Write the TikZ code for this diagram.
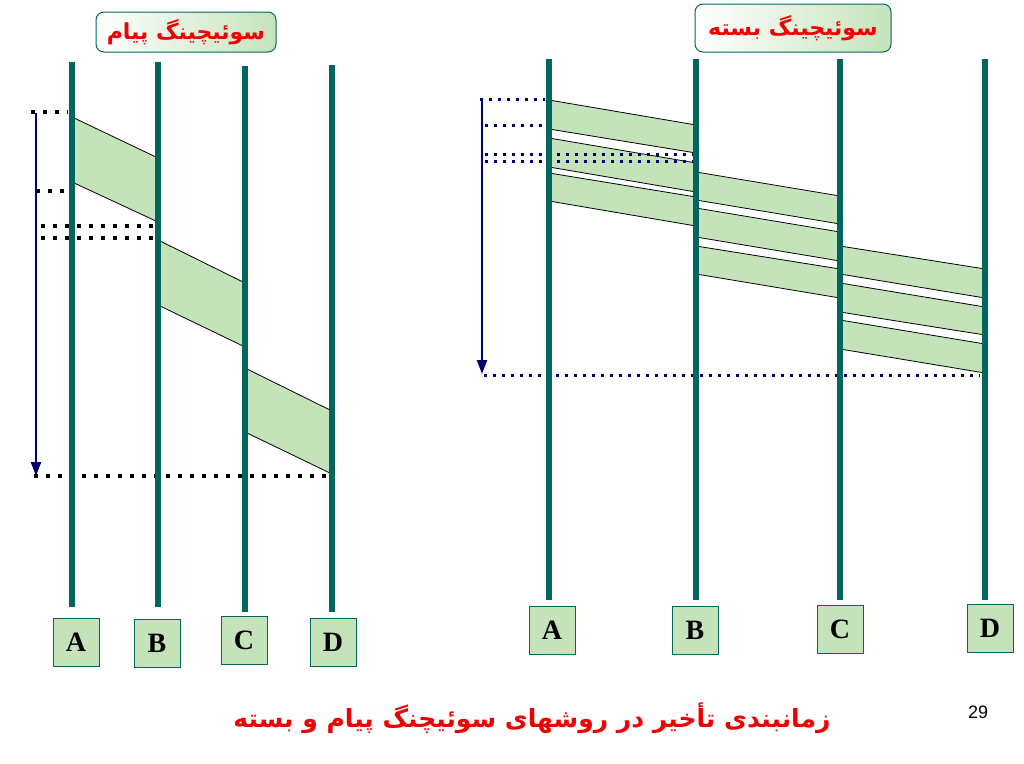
\documentclass[tikz,border=0pt]{standalone}
\usepackage{fontspec}
\setmainfont{Liberation Serif}
\newfontfamily\arabicfont[Script=Arabic]{DejaVu Sans}
\newfontfamily\arialf{Liberation Sans}
\TeXXeTstate=1
\usetikzlibrary{arrows.meta}
\definecolor{teal}{RGB}{0,102,94}
\definecolor{band}{RGB}{197,227,187}
\definecolor{navy}{RGB}{0,0,110}
\definecolor{redt}{RGB}{240,0,0}
\tikzset{
 wire/.style={line width=6pt,draw=teal},
 bandf/.style={fill=band},
 edge/.style={draw=black,line width=0.8pt},
 lab/.style={draw=teal,fill=band,minimum width=46pt,minimum height=48pt,font=\bfseries\fontsize{28}{30}\selectfont,inner sep=0pt},
 ttl/.style={draw=teal,line width=1pt,rounded corners=8pt,left color=white,right color=band,inner sep=0pt,font=\arabicfont\bfseries\fontsize{22}{24}\selectfont,text=redt},
 bdot/.style={draw=black,line width=3.5pt,dash pattern=on 3.5pt off 8.5pt},
 ndot/.style={draw=navy,line width=3pt,dash pattern=on 3pt off 6pt},
 tarr/.style={draw=navy,line width=2.2pt,-{Triangle[length=14pt,width=10pt]}}
}
\newcommand{\bnd}[6]{% x1 t1 b1 x2 t2 b2
 \fill[bandf] (#1,#2)--(#4,#5)--(#4,#6)--(#1,#3)--cycle;
 \draw[edge] (#1,#2)--(#4,#5); \draw[edge] (#1,#3)--(#4,#6);}
\begin{document}
\begin{tikzpicture}[x=1pt,y=-1pt]
\useasboundingbox[fill=white] (0,0) rectangle (1024,763);
% left bands
\bnd{72}{117}{182}{158}{158}{222}
\bnd{158}{240}{305}{245}{283}{347}
\bnd{245}{368}{432}{332}{411}{474}
% right bands
\bnd{549}{100}{129}{696}{125}{153}
\bnd{549}{138}{167}{696}{163}{192}
\bnd{549}{173}{201}{696}{197}{226}
\bnd{696}{172}{200}{840}{196}{224}
\bnd{696}{208}{237}{840}{232}{261}
\bnd{696}{246}{274}{840}{269}{298}
\bnd{840}{246}{274}{985}{269}{298}
\bnd{840}{283}{312}{985}{307}{335}
\bnd{840}{320}{349}{985}{344}{373}
% left dotted
\coordinate (l1a) at (31,112); \coordinate (l1b) at (68,112);
\coordinate (l2a) at (36,191); \coordinate (l2b) at (68,191);
\coordinate (l3a) at (41,226); \coordinate (l3b) at (155,226);
\coordinate (l4a) at (41,238); \coordinate (l4b) at (155,238);
\coordinate (l5a) at (34,476); \coordinate (l5b) at (330,476);
\foreach \i in {1,...,5} \draw[bdot] (l\i a)--(l\i b);
\coordinate (la) at (36,113); \coordinate (lb) at (36,476);
\draw[tarr] (la)--(lb);
% right dotted
\coordinate (r1a) at (480,99); \coordinate (r1b) at (545,99);
\coordinate (r2a) at (485,125); \coordinate (r2b) at (545,125);
\coordinate (r3a) at (485,154); \coordinate (r3b) at (693,154);
\coordinate (r4a) at (485,161); \coordinate (r4b) at (693,161);
\coordinate (r5a) at (484,375); \coordinate (r5b) at (980,375);
\foreach \i in {1,...,5} \draw[ndot] (r\i a)--(r\i b);
\coordinate (ra) at (482,99); \coordinate (rb) at (482,374);
\draw[tarr] (ra)--(rb);
% wires
\draw[wire] (72,62)--(72,607);
\draw[wire] (158,62)--(158,607);
\draw[wire] (245,66)--(245,612);
\draw[wire] (332,65)--(332,612);
\draw[wire] (549,59)--(549,600);
\draw[wire] (696,59)--(696,600);
\draw[wire] (840,59)--(840,600);
\draw[wire] (985,59)--(985,600);
% labels
\node[lab] (LA) at (76,642) {A};
\node[lab] (LB) at (157,643) {B};
\node[lab] (LC) at (244,640) {C};
\node[lab] (LD) at (333,642) {D};
\node[lab] (RA) at (552,630) {A};
\node[lab] (RB) at (695,630) {B};
\node[lab] (RC) at (840,629) {C};
\node[lab] (RD) at (990,628) {D};
% titles
\node[ttl,minimum width=180pt,minimum height=40pt] (T1) at (186,32) {\beginR سوئیچینگ پیام\endR};
\node[ttl,minimum width=196pt,minimum height=48pt] (T2) at (793,28) {\beginR سوئیچینگ بسته\endR};
\node[font=\arabicfont\bfseries\fontsize{25}{27}\selectfont,text=redt] (cap) at (532,718) {\beginR زمانبندی تأخیر در روشهای سوئیچنگ پیام و بسته\endR};
\node[font=\arialf\fontsize{18}{20}\selectfont] (pg) at (978,712) {29};
\end{tikzpicture}
\end{document}
